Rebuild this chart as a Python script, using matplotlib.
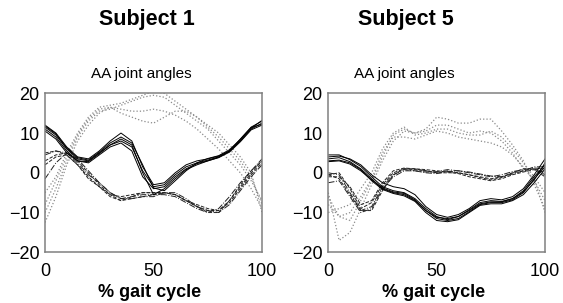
import matplotlib
matplotlib.use("Agg")
import matplotlib.pyplot as plt

plt.rcParams['font.family'] = ['Liberation Sans', 'DejaVu Sans']

# % gait cycle sample points
gait = [0, 5, 10, 15, 20, 25, 30, 35, 40, 45, 50, 55, 60, 65, 70, 75, 80, 85, 90, 95, 100]

# Subject 1 - solid traces
s1_solid = [
    [11.5, 9.5, 6.0, 3.5, 3.0, 5.0, 7.0, 8.0, 6.5, 0.5, -3.5, -3.0, -0.5, 1.5, 2.5, 3.2, 4.0, 5.5, 8.0, 11.0, 12.5],
    [12.0, 10.0, 6.5, 4.0, 3.5, 5.5, 8.0, 10.0, 8.0, 1.5, -3.0, -2.5, 0.0, 2.0, 3.0, 3.5, 4.2, 5.5, 8.5, 11.5, 13.0],
    [11.0, 9.0, 5.5, 3.0, 2.5, 4.5, 6.5, 7.5, 5.5, -1.0, -4.0, -3.5, -1.0, 1.0, 2.3, 3.0, 3.8, 5.2, 7.8, 10.8, 12.0],
    [10.5, 8.5, 5.0, 3.0, 2.8, 4.8, 7.0, 8.5, 7.0, 0.0, -5.5, -4.0, -1.5, 0.8, 2.0, 3.0, 3.9, 5.4, 8.2, 11.2, 13.2],
    [11.8, 9.8, 6.2, 3.8, 3.2, 5.2, 7.5, 9.0, 7.5, 2.0, -3.8, -4.5, -2.0, 0.5, 2.5, 3.6, 4.3, 5.8, 8.4, 11.4, 12.2],
]
# Subject 1 - dashed traces
s1_dashed = [
    [3.0, 4.5, 5.0, 3.0, 0.0, -3.0, -5.5, -7.0, -6.5, -6.0, -5.5, -5.0, -5.5, -7.0, -8.5, -9.5, -9.5, -7.0, -3.5, 0.0, 3.0],
    [4.5, 5.5, 5.0, 2.5, -0.5, -2.5, -5.0, -6.5, -6.0, -5.5, -5.5, -5.5, -6.0, -7.5, -9.0, -10.0, -9.0, -6.0, -2.5, 0.5, 3.5],
    [2.0, 4.0, 4.5, 2.0, -1.0, -3.5, -6.0, -7.0, -6.0, -5.0, -5.0, -5.0, -5.5, -7.0, -8.0, -9.0, -9.5, -7.5, -4.0, -0.5, 2.5],
    [-1.5, 2.5, 5.0, 3.5, 0.5, -2.5, -5.0, -6.5, -6.5, -6.0, -6.0, -5.0, -5.0, -6.5, -8.5, -9.5, -10.0, -8.0, -4.5, -1.0, 2.0],
    [5.0, 5.5, 4.5, 2.0, -1.5, -3.5, -5.5, -6.0, -5.5, -5.0, -5.0, -5.0, -5.5, -7.0, -8.5, -10.0, -10.0, -7.0, -3.0, 0.5, 3.0],
]
# Subject 1 - dotted traces
s1_dotted = [
    [-12.5, -6.0, 2.0, 8.0, 12.0, 15.0, 16.5, 16.0, 15.5, 15.5, 16.0, 15.5, 14.5, 13.0, 11.0, 8.5, 6.0, 3.0, 0.0, -4.0, -9.0],
    [-10.0, -4.0, 3.0, 9.0, 13.0, 15.5, 16.0, 17.0, 18.0, 19.0, 19.5, 19.0, 17.0, 15.0, 13.0, 11.0, 8.0, 5.0, 2.0, -2.0, -7.0],
    [-8.0, -2.0, 4.0, 9.5, 13.5, 16.0, 16.5, 15.0, 14.0, 13.0, 12.5, 14.0, 15.5, 15.5, 14.0, 11.5, 9.0, 6.0, 3.0, -1.0, -8.0],
    [-5.0, -1.0, 5.0, 10.0, 14.0, 16.5, 17.0, 17.5, 18.5, 19.5, 20.5, 20.0, 18.0, 16.0, 14.0, 12.0, 10.0, 7.0, 4.0, 0.0, -10.0],
]

# Subject 5 - solid traces
s5_solid = [
    [4.5, 4.5, 3.3, 1.6, -1.0, -3.5, -4.5, -5.0, -6.5, -9.0, -11.0, -11.8, -11.0, -9.3, -7.5, -7.0, -7.2, -6.5, -4.5, -1.0, 2.0],
    [3.5, 3.8, 2.8, 1.0, -1.5, -4.0, -5.0, -5.5, -7.0, -9.5, -11.5, -12.0, -11.5, -9.8, -8.0, -7.5, -7.5, -6.8, -5.0, -1.5, 1.5],
    [4.0, 4.2, 3.5, 2.0, -0.5, -2.5, -3.5, -4.0, -5.5, -8.5, -10.5, -11.2, -10.5, -9.0, -7.0, -6.5, -6.8, -6.0, -4.0, -0.5, 3.5],
    [3.0, 3.2, 2.5, 0.8, -2.0, -4.2, -5.2, -5.8, -7.2, -10.0, -12.0, -12.3, -11.8, -10.0, -8.2, -7.8, -7.8, -7.0, -5.5, -2.5, 1.0],
    [2.8, 3.0, 2.2, 0.5, -1.8, -3.8, -4.8, -5.2, -6.8, -9.5, -11.2, -11.5, -11.0, -9.5, -7.8, -7.3, -7.3, -6.5, -4.8, -1.8, 2.5],
]
# Subject 5 - dashed traces
s5_dashed = [
    [-0.5, 0.0, -4.0, -9.0, -7.5, -3.0, 0.0, 1.0, 0.8, 0.5, 0.0, 0.5, 0.0, -0.5, -1.0, -1.5, -1.0, 0.0, 0.5, 1.0, 0.0],
    [0.0, -0.5, -5.0, -9.5, -8.5, -3.5, -0.5, 0.8, 0.5, 0.2, 0.3, 0.8, 0.5, 0.0, -0.5, -1.0, -0.5, 0.3, 0.8, 1.2, 1.0],
    [-1.0, -1.0, -3.5, -8.0, -7.0, -2.5, 0.5, 1.2, 1.0, 0.8, 0.5, 0.2, -0.2, -1.0, -1.5, -2.0, -1.5, -0.5, 0.2, 0.8, -1.0],
    [-2.5, -2.0, -6.0, -10.0, -9.0, -4.0, -1.0, 0.5, 0.5, 0.0, -0.2, 0.3, 0.5, 0.2, -0.3, -0.8, -1.0, -0.3, 0.5, 1.5, 1.5],
    [-0.5, -1.5, -5.5, -9.5, -9.5, -4.5, -0.5, 1.0, 1.0, 0.5, 0.0, 0.0, 0.0, -0.5, -1.2, -1.8, -1.2, 0.0, 1.0, 1.0, -0.5],
]
# Subject 5 - dotted traces
s5_dotted = [
    [-5.0, -17.0, -15.0, -9.0, -3.0, 3.0, 8.0, 10.5, 10.0, 11.0, 14.0, 13.5, 12.5, 12.5, 13.5, 13.5, 10.5, 7.0, 3.0, -3.0, -9.0],
    [-8.0, -11.0, -12.0, -7.0, -2.0, 4.0, 9.5, 11.0, 10.0, 10.5, 12.0, 12.0, 11.0, 10.0, 10.5, 10.0, 8.0, 5.0, 1.0, -1.5, -10.0],
    [-10.0, -9.0, -8.0, -4.0, 0.0, 6.0, 10.0, 11.5, 9.5, 10.0, 11.0, 11.0, 10.0, 9.5, 9.5, 10.5, 9.0, 6.0, 2.5, -1.0, -5.0],
    [-6.0, -11.0, -10.0, -6.0, -1.5, 5.0, 9.0, 9.0, 8.5, 9.5, 10.5, 10.0, 9.0, 8.5, 8.0, 7.5, 6.5, 4.5, 1.5, -2.0, -7.0],
]

subjects = ["Subject 1", "Subject 5"]
dash_styles = ['--', '-.', '--', '-.', '--']

fig = plt.figure(figsize=(5.63, 3.03), dpi=100)
ax_left = fig.add_axes([0.0800, 0.1673, 0.3854, 0.5248])
ax_right = fig.add_axes([0.5831, 0.1673, 0.385, 0.5248])

for ax, solid, dashed, dotted in [(ax_left, s1_solid, s1_dashed, s1_dotted),
                                  (ax_right, s5_solid, s5_dashed, s5_dotted)]:
    for ys in dotted:
        ax.plot(gait, ys, ls=':', color='#8a8a8a', lw=0.9)
    for ys, st in zip(dashed, dash_styles):
        ax.plot(gait, ys, ls=st, color='#222222', lw=0.7)
    for ys in solid:
        ax.plot(gait, ys, ls='-', color='black', lw=0.7)
    ax.set_xlim(0, 100)
    ax.set_ylim(-20, 20)
    ax.set_xticks([0, 50, 100])
    ax.set_yticks([-20, -10, 0, 10, 20])
    ax.tick_params(length=0, labelsize=13)
    ax.tick_params(axis='y', pad=4)
    ax.tick_params(axis='x', pad=8)
    for sp in ax.spines.values():
        sp.set_color('#808080')
        sp.set_linewidth(1.1)

# titles and labels
fig.text(147 / 563, 1 - 25 / 303, subjects[0], ha='center', va='baseline', fontsize=15.5, fontweight='bold')
fig.text(406 / 563, 1 - 25 / 303, subjects[1], ha='center', va='baseline', fontsize=15.5, fontweight='bold')
fig.text(141 / 563, 1 - 78 / 303, "AA joint angles", ha='center', va='baseline', fontsize=11)
fig.text(404 / 563, 1 - 78 / 303, "AA joint angles", ha='center', va='baseline', fontsize=11)
fig.text(150 / 563, 1 - 297 / 303, "% gait cycle", ha='center', va='baseline', fontsize=13, fontweight='bold')
fig.text(433.5 / 563, 1 - 297 / 303, "% gait cycle", ha='center', va='baseline', fontsize=13, fontweight='bold')

fig.savefig("out.png", dpi=100)
